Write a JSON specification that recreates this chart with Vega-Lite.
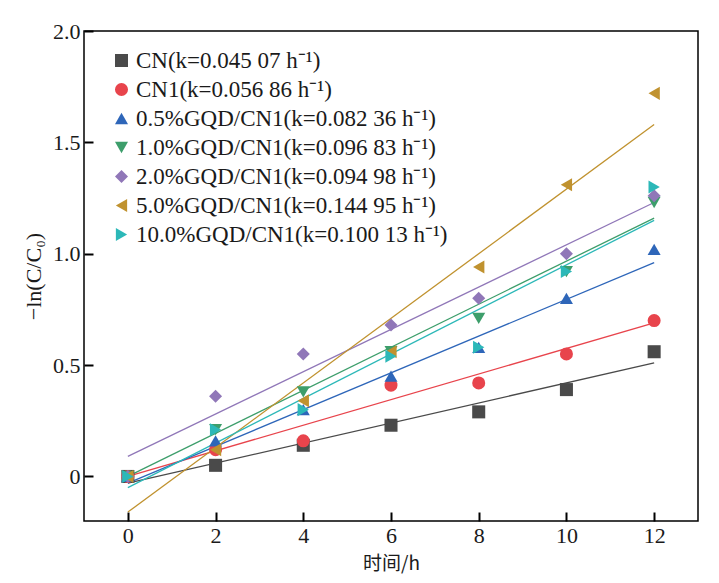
{
  "$schema": "https://vega.github.io/schema/vega-lite/v6.json",
  "autosize": {"type": "none"},
  "padding": {"left": 84, "top": 31, "right": 21, "bottom": 62},
  "width": 614,
  "height": 490,
  "datasets": {
    "points": [
      {"series": "CN", "t": 0, "y": 0}, {"series": "CN", "t": 2, "y": 0.05}, {"series": "CN", "t": 4, "y": 0.14},
      {"series": "CN", "t": 6, "y": 0.23}, {"series": "CN", "t": 8, "y": 0.29}, {"series": "CN", "t": 10, "y": 0.39},
      {"series": "CN", "t": 12, "y": 0.56},
      {"series": "CN1", "t": 0, "y": 0}, {"series": "CN1", "t": 2, "y": 0.12}, {"series": "CN1", "t": 4, "y": 0.16},
      {"series": "CN1", "t": 6, "y": 0.41}, {"series": "CN1", "t": 8, "y": 0.42}, {"series": "CN1", "t": 10, "y": 0.55},
      {"series": "CN1", "t": 12, "y": 0.70},
      {"series": "0.5%", "t": 0, "y": 0}, {"series": "0.5%", "t": 2, "y": 0.16}, {"series": "0.5%", "t": 4, "y": 0.30},
      {"series": "0.5%", "t": 6, "y": 0.45}, {"series": "0.5%", "t": 8, "y": 0.58}, {"series": "0.5%", "t": 10, "y": 0.80},
      {"series": "0.5%", "t": 12, "y": 1.02},
      {"series": "1.0%", "t": 0, "y": 0}, {"series": "1.0%", "t": 2, "y": 0.21}, {"series": "1.0%", "t": 4, "y": 0.38},
      {"series": "1.0%", "t": 6, "y": 0.56}, {"series": "1.0%", "t": 8, "y": 0.71}, {"series": "1.0%", "t": 10, "y": 0.92},
      {"series": "1.0%", "t": 12, "y": 1.23},
      {"series": "2.0%", "t": 0, "y": 0}, {"series": "2.0%", "t": 2, "y": 0.36}, {"series": "2.0%", "t": 4, "y": 0.55},
      {"series": "2.0%", "t": 6, "y": 0.68}, {"series": "2.0%", "t": 8, "y": 0.80}, {"series": "2.0%", "t": 10, "y": 1.00},
      {"series": "2.0%", "t": 12, "y": 1.26},
      {"series": "5.0%", "t": 0, "y": 0}, {"series": "5.0%", "t": 2, "y": 0.12}, {"series": "5.0%", "t": 4, "y": 0.34},
      {"series": "5.0%", "t": 6, "y": 0.56}, {"series": "5.0%", "t": 8, "y": 0.94}, {"series": "5.0%", "t": 10, "y": 1.31},
      {"series": "5.0%", "t": 12, "y": 1.72},
      {"series": "10.0%", "t": 0, "y": 0}, {"series": "10.0%", "t": 2, "y": 0.21}, {"series": "10.0%", "t": 4, "y": 0.30},
      {"series": "10.0%", "t": 6, "y": 0.54}, {"series": "10.0%", "t": 8, "y": 0.58}, {"series": "10.0%", "t": 10, "y": 0.92},
      {"series": "10.0%", "t": 12, "y": 1.30}
    ],
    "fits": [
      {"fit": "CN", "t": 0, "v": -0.03}, {"fit": "CN", "t": 12, "v": 0.51},
      {"fit": "CN1", "t": 0, "v": 0.0}, {"fit": "CN1", "t": 12, "v": 0.69},
      {"fit": "0.5%", "t": 0, "v": -0.03}, {"fit": "0.5%", "t": 12, "v": 0.96},
      {"fit": "1.0%", "t": 0, "v": 0.0}, {"fit": "1.0%", "t": 12, "v": 1.16},
      {"fit": "2.0%", "t": 0, "v": 0.09}, {"fit": "2.0%", "t": 12, "v": 1.23},
      {"fit": "5.0%", "t": 0, "v": -0.16}, {"fit": "5.0%", "t": 12, "v": 1.58},
      {"fit": "10.0%", "t": 0, "v": -0.05}, {"fit": "10.0%", "t": 12, "v": 1.15}
    ]
  },
  "layer": [
    {
      "data": {"name": "fits"},
      "transform": [{"filter": "datum.fit == 'CN'"}],
      "mark": {"type": "line", "strokeWidth": 1.3, "color": "#4a4a4a"},
      "encoding": {"x": {"field": "t", "type": "quantitative"}, "y": {"field": "v", "type": "quantitative"}}
    },
    {
      "data": {"name": "fits"},
      "transform": [{"filter": "datum.fit == 'CN1'"}],
      "mark": {"type": "line", "strokeWidth": 1.3, "color": "#e8444c"},
      "encoding": {"x": {"field": "t", "type": "quantitative"}, "y": {"field": "v", "type": "quantitative"}}
    },
    {
      "data": {"name": "fits"},
      "transform": [{"filter": "datum.fit == '0.5%'"}],
      "mark": {"type": "line", "strokeWidth": 1.3, "color": "#2e66b9"},
      "encoding": {"x": {"field": "t", "type": "quantitative"}, "y": {"field": "v", "type": "quantitative"}}
    },
    {
      "data": {"name": "fits"},
      "transform": [{"filter": "datum.fit == '1.0%'"}],
      "mark": {"type": "line", "strokeWidth": 1.3, "color": "#3d9e6b"},
      "encoding": {"x": {"field": "t", "type": "quantitative"}, "y": {"field": "v", "type": "quantitative"}}
    },
    {
      "data": {"name": "fits"},
      "transform": [{"filter": "datum.fit == '2.0%'"}],
      "mark": {"type": "line", "strokeWidth": 1.3, "color": "#9077b8"},
      "encoding": {"x": {"field": "t", "type": "quantitative"}, "y": {"field": "v", "type": "quantitative"}}
    },
    {
      "data": {"name": "fits"},
      "transform": [{"filter": "datum.fit == '5.0%'"}],
      "mark": {"type": "line", "strokeWidth": 1.3, "color": "#c0922f"},
      "encoding": {"x": {"field": "t", "type": "quantitative"}, "y": {"field": "v", "type": "quantitative"}}
    },
    {
      "data": {"name": "fits"},
      "transform": [{"filter": "datum.fit == '10.0%'"}],
      "mark": {"type": "line", "strokeWidth": 1.3, "color": "#2cb8b8"},
      "encoding": {"x": {"field": "t", "type": "quantitative"}, "y": {"field": "v", "type": "quantitative"}}
    },
    {
      "data": {"name": "points"},
      "mark": {"type": "point", "filled": true, "opacity": 1, "size": 170},
      "encoding": {
        "x": {
          "field": "t", "type": "quantitative",
          "scale": {"domain": [-1, 13], "nice": false, "zero": false},
          "axis": {
            "values": [0, 2, 4, 6, 8, 10, 12],
            "domain": false,
            "ticks": true,
            "tickSize": 9,
            "tickWidth": 2,
            "tickColor": "#000000",
            "offset": -9,
            "labelPadding": 4,
            "title": "时间/h",
            "titleFont": "Noto Sans CJK SC",
            "titleFontWeight": "normal",
            "titleFontSize": 19,
            "titlePadding": 8,
            "titleColor": "#1a1a1a"
          }
        },
        "y": {
          "field": "y", "type": "quantitative",
          "scale": {"domain": [-0.2, 2.0], "nice": false, "zero": false},
          "axis": {
            "values": [0, 0.5, 1.0, 1.5, 2.0],
            "domain": false,
            "ticks": true,
            "tickSize": 9,
            "tickWidth": 2,
            "tickColor": "#000000",
            "offset": -9,
            "labelPadding": 4,
            "labelExpr": "datum.value == 0 ? '0' : format(datum.value, '.1f')",
            "title": "−ln(C/C₀)",
            "titleFontSize": 22,
            "titleFontWeight": "normal",
            "titlePadding": 7,
            "titleColor": "#1a1a1a"
          }
        },
        "color": {
          "field": "series", "type": "nominal",
          "scale": {
            "domain": ["CN", "CN1", "0.5%", "1.0%", "2.0%", "5.0%", "10.0%"],
            "range": ["#4a4a4a", "#e8444c", "#2e66b9", "#3d9e6b", "#9077b8", "#c0922f", "#2cb8b8"]
          },
          "legend": {
            "title": null,
            "orient": "none",
            "legendX": 26,
            "legendY": 18,
            "padding": 0,
            "rowPadding": 5,
            "labelFontSize": 23,
            "labelLimit": 400,
            "labelOffset": 3,
            "symbolSize": 170,
            "labelExpr": "{'CN': 'CN(k=0.045 07 h⁻¹)', 'CN1': 'CN1(k=0.056 86 h⁻¹)', '0.5%': '0.5%GQD/CN1(k=0.082 36 h⁻¹)', '1.0%': '1.0%GQD/CN1(k=0.096 83 h⁻¹)', '2.0%': '2.0%GQD/CN1(k=0.094 98 h⁻¹)', '5.0%': '5.0%GQD/CN1(k=0.144 95 h⁻¹)', '10.0%': '10.0%GQD/CN1(k=0.100 13 h⁻¹)'}[datum.label]"
          }
        },
        "shape": {
          "field": "series", "type": "nominal",
          "scale": {
            "domain": ["CN", "CN1", "0.5%", "1.0%", "2.0%", "5.0%", "10.0%"],
            "range": ["square", "circle", "triangle-up", "triangle-down", "diamond", "triangle-left", "triangle-right"]
          }
        }
      }
    }
  ],
  "config": {
    "font": "Liberation Serif",
    "view": {"stroke": "#000000", "strokeWidth": 1.5},
    "axis": {
      "grid": false,
      "labelFont": "Liberation Serif",
      "labelFontSize": 22,
      "labelColor": "#1a1a1a",
      "titleFont": "Liberation Serif",
      "titleColor": "#1a1a1a"
    },
    "legend": {"labelFont": "Liberation Serif", "labelColor": "#1a1a1a"}
  }
}
